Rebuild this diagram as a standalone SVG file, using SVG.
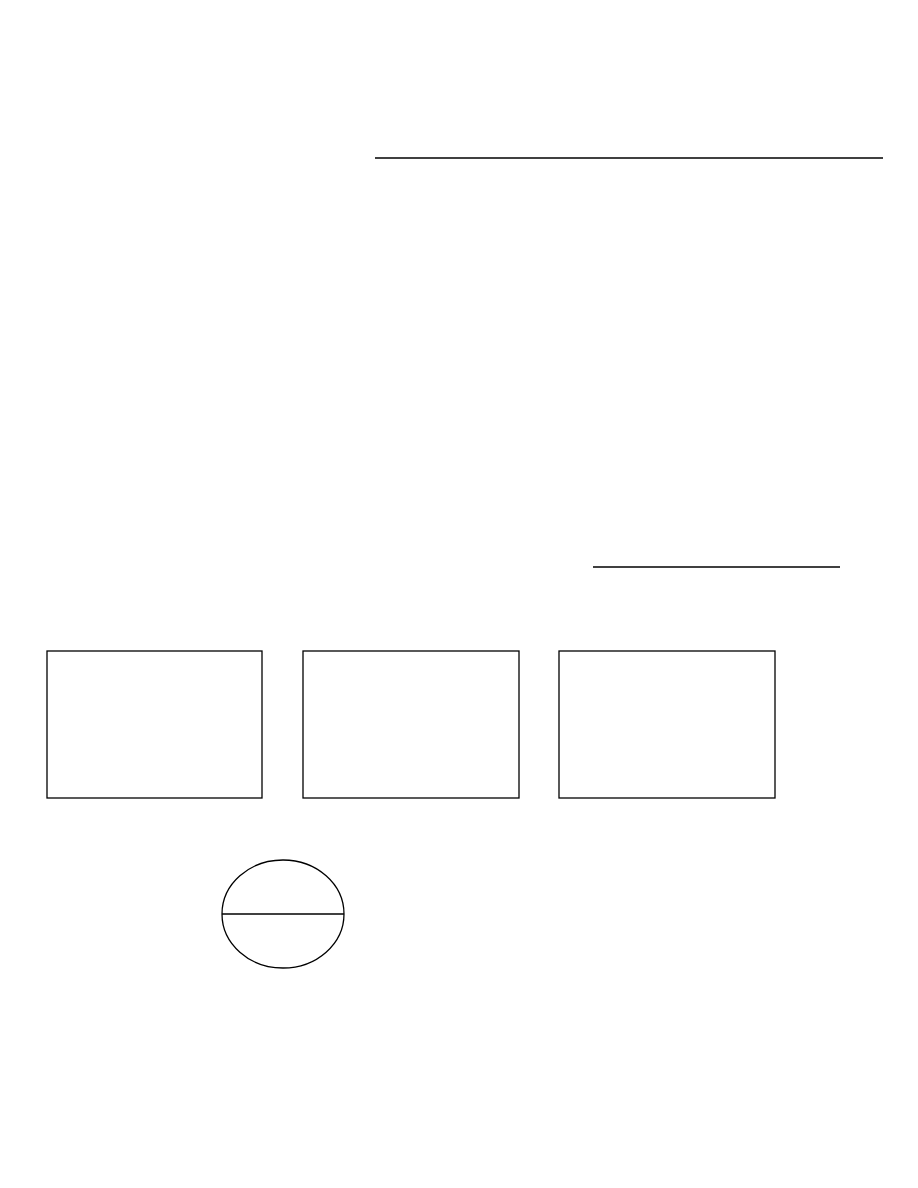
<svg xmlns="http://www.w3.org/2000/svg" width="918" height="1188" viewBox="0 0 918 1188">
<style>
.s{fill:none;stroke:#000;stroke-width:1.3}
.l{stroke:#000;stroke-width:1.3}
</style>
<rect width="918" height="1188" fill="#fff"/>
<g id="connectors">
<line class="l" x1="375" y1="158" x2="883" y2="158"/>
<line class="l" x1="593" y1="567" x2="840" y2="567"/>
</g>
<g id="box1"><rect class="s" x="47" y="651" width="215" height="147"/></g>
<g id="box2"><rect class="s" x="303" y="651" width="216" height="147"/></g>
<g id="box3"><rect class="s" x="559" y="651" width="216" height="147"/></g>
<g id="ellipse1">
<ellipse class="s" cx="283" cy="914" rx="61" ry="54"/>
<line class="l" x1="222" y1="914" x2="344" y2="914"/>
</g>
</svg>
